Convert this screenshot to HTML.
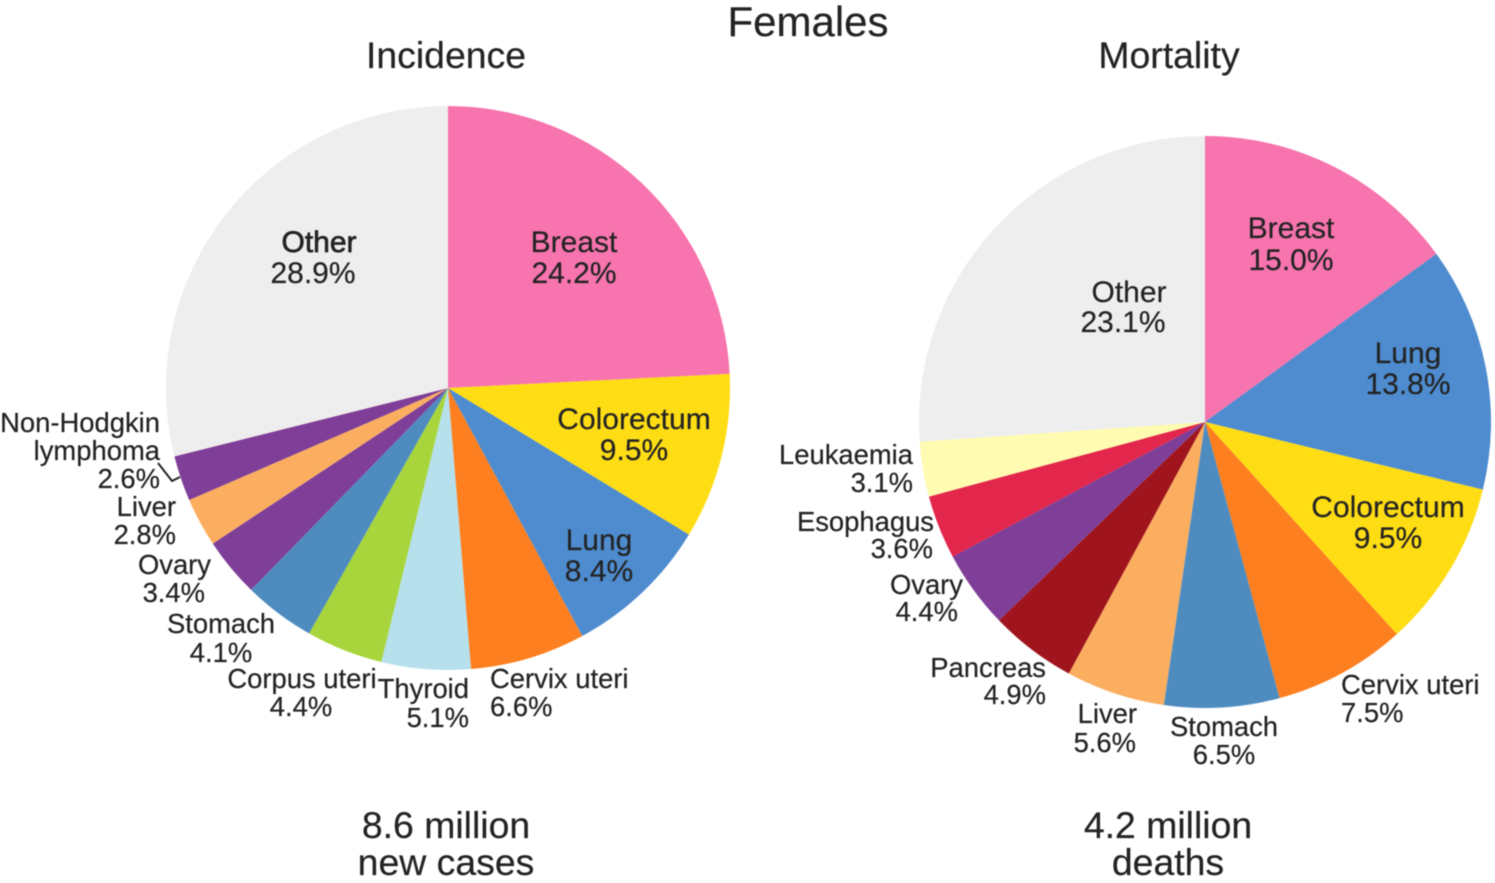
<!DOCTYPE html>
<html lang="en">
<head>
<meta charset="utf-8">
<title>Females: cancer incidence and mortality</title>
<style>
  html, body { margin: 0; padding: 0; background: #fff; }
  svg { display: block; font-family: "Liberation Sans", sans-serif; fill: #232323; filter: blur(0.45px); }
  text { stroke: #232323; stroke-width: 0.2px; }
  .title { font-size: 38px; text-anchor: middle; }
  .big { font-size: 30px; text-anchor: middle; }
  .s { font-size: 27.4px; }
  .m { text-anchor: middle; }
  .e { text-anchor: end; }
</style>
</head>
<body>
<svg id="chart" width="1495" height="883" viewBox="0 0 1495 883" xmlns="http://www.w3.org/2000/svg">
  <g id="pie-incidence"></g>
  <g id="pie-mortality"></g>

  <text class="title" x="808" y="36" style="font-size:42px">Females</text>
  <text class="title" x="446" y="68" style="font-size:37.4px">Incidence</text>
  <text class="title" x="1169" y="68" style="font-size:37.4px">Mortality</text>

  <g>
    <text class="big" x="574" y="252">Breast</text>
    <text class="big" x="574" y="283">24.2%</text>
    <text class="big" x="319" y="252" style="stroke-width:.7px">Other</text>
    <text class="big" x="313" y="283">28.9%</text>
    <text class="big" x="634" y="429">Colorectum</text>
    <text class="big" x="634" y="460">9.5%</text>
    <text class="big" x="599" y="550">Lung</text>
    <text class="big" x="599" y="581">8.4%</text>
    <text class="s e" x="160" y="432">Non-Hodgkin</text>
    <text class="s e" x="160" y="460">lymphoma</text>
    <text class="s e" x="160" y="488">2.6%</text>
    <text class="s e" x="176" y="516">Liver</text>
    <text class="s e" x="176" y="544">2.8%</text>
    <text class="s e" x="211" y="574">Ovary</text>
    <text class="s e" x="205" y="602">3.4%</text>
    <text class="s m" x="221" y="633">Stomach</text>
    <text class="s m" x="221" y="662">4.1%</text>
    <text class="s m" x="302" y="688">Corpus uteri</text>
    <text class="s m" x="301" y="716">4.4%</text>
    <text class="s e" x="469" y="698">Thyroid</text>
    <text class="s e" x="469" y="727">5.1%</text>
    <text class="s" x="490" y="688">Cervix uteri</text>
    <text class="s" x="490" y="716">6.6%</text>
    <polyline points="158,463 172,481 180,477" fill="none" stroke="#232323" stroke-width="2"></polyline>
  </g>

  <g>
    <text class="big" x="1291" y="238">Breast</text>
    <text class="big" x="1291" y="270">15.0%</text>
    <text class="big" x="1408" y="363">Lung</text>
    <text class="big" x="1408" y="394">13.8%</text>
    <text class="big" x="1388" y="517">Colorectum</text>
    <text class="big" x="1388" y="548">9.5%</text>
    <text class="big" x="1129" y="302">Other</text>
    <text class="big" x="1123" y="332">23.1%</text>
    <text class="s e" x="913" y="464">Leukaemia</text>
    <text class="s e" x="913" y="492">3.1%</text>
    <text class="s e" x="934" y="531">Esophagus</text>
    <text class="s e" x="933" y="558">3.6%</text>
    <text class="s e" x="963" y="594">Ovary</text>
    <text class="s e" x="958" y="621">4.4%</text>
    <text class="s e" x="1046" y="677">Pancreas</text>
    <text class="s e" x="1046" y="704">4.9%</text>
    <text class="s e" x="1137" y="723">Liver</text>
    <text class="s e" x="1136" y="752">5.6%</text>
    <text class="s m" x="1224" y="736">Stomach</text>
    <text class="s m" x="1224" y="764">6.5%</text>
    <text class="s" x="1341" y="694">Cervix uteri</text>
    <text class="s" x="1341" y="722">7.5%</text>
  </g>

  <text class="title" x="446" y="838" style="font-size:37.4px">8.6 million</text>
  <text class="title" x="446" y="875" style="font-size:37.4px">new cases</text>
  <text class="title" x="1168" y="838" style="font-size:37.4px">4.2 million</text>
  <text class="title" x="1168" y="875" style="font-size:37.4px">deaths</text>
</svg>

<script>
const incidenceCategories = ["Breast", "Colorectum", "Lung", "Cervix uteri", "Thyroid", "Corpus uteri", "Stomach", "Ovary", "Liver", "Non-Hodgkin lymphoma", "Other"];
const incidenceValues = [24.2, 9.5, 8.4, 6.6, 5.1, 4.4, 4.1, 3.4, 2.8, 2.6, 28.9];
const incidenceColors = ["#f774ae", "#ffdd14", "#4e8ccf", "#fd7f1f", "#b5e0ec", "#a7d53b", "#4e8cc0", "#7f3f98", "#fbae60", "#7f3f98", "#eeeeee"];

const mortalityCategories = ["Breast", "Lung", "Colorectum", "Cervix uteri", "Stomach", "Liver", "Pancreas", "Ovary", "Esophagus", "Leukaemia", "Other"];
// "Other" is printed as 23.1% in the source figure, but its wedge is drawn at about 26.1%.
const mortalityValues = [15.0, 13.8, 9.5, 7.5, 6.5, 5.6, 4.9, 4.4, 3.6, 3.1, 26.1];
const mortalityColors = ["#f774ae", "#4e8ccf", "#ffdd14", "#fd7f1f", "#4e8cc0", "#fbae60", "#a0151d", "#7f3f98", "#e3264b", "#fffbb0", "#eeeeee"];

function angleScale(values) {
  const total = values.reduce(function (a, b) { return a + b; }, 0);
  return function (v) { return v / total * 2 * Math.PI; };
}

function drawPie(groupId, categories, values, colors, cx, cy, r) {
  const group = document.getElementById(groupId);
  const scale = angleScale(values);
  let start = 0;
  values.forEach(function (v, i) {
    const end = start + scale(v);
    const x0 = cx + r * Math.sin(start);
    const y0 = cy - r * Math.cos(start);
    const x1 = cx + r * Math.sin(end);
    const y1 = cy - r * Math.cos(end);
    const large = end - start > Math.PI ? 1 : 0;
    const slice = document.createElementNS("http://www.w3.org/2000/svg", "path");
    slice.setAttribute("d", "M" + cx + " " + cy + "L" + x0 + " " + y0 + "A" + r + " " + r + " 0 " + large + " 1 " + x1 + " " + y1 + "Z");
    slice.setAttribute("fill", colors[i]);
    
    
    group.appendChild(slice);
    start = end;
  });
}

drawPie("pie-incidence", incidenceCategories, incidenceValues, incidenceColors, 448, 388, 282);
drawPie("pie-mortality", mortalityCategories, mortalityValues, mortalityColors, 1205, 422, 286);
</script>
</body>
</html>
